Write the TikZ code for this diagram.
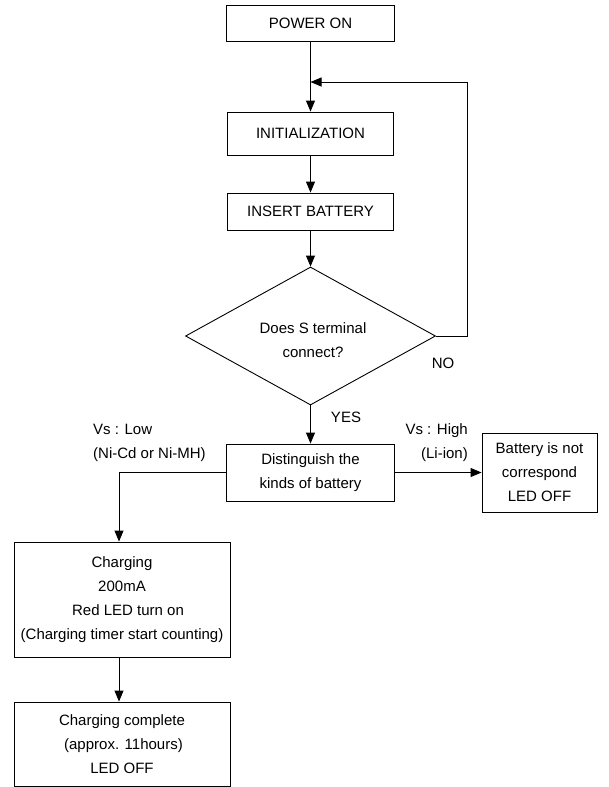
\documentclass[tikz,border=0pt]{standalone}
\usepackage{fontspec}
\setmainfont{Liberation Sans}
\usetikzlibrary{arrows.meta,shapes.geometric}
\newcommand{\fs}{\fontsize{15}{24}\selectfont}
\begin{document}
\begin{tikzpicture}[x=1pt,y=-1pt,
  box/.style={draw, line width=0.9pt, inner sep=0pt, align=center, font=\fs},
  lbl/.style={inner sep=0pt, font=\fs},
  arr/.style={-{Triangle[length=11pt,width=9pt]}, line width=0.9pt},
  ln/.style={line width=0.9pt}]
\useasboundingbox (0,0) rectangle (608,787);
\node[box, minimum width=168pt, minimum height=36pt] (power) at (310.5,23) {POWER ON};
\node[box, minimum width=166pt, minimum height=43pt] (init) at (310.5,133.5) {INITIALIZATION};
\node[box, minimum width=166pt, minimum height=37pt] (insert) at (310.5,211.5) {INSERT BATTERY};
\node[diamond, draw, ln, minimum width=250pt, minimum height=138pt, inner sep=0pt] (dec) at (310.5,336) {};
\node[lbl, align=center] (dectext) at (313,340) {Does S terminal\\connect?};
\node[box, minimum width=168pt, minimum height=57pt] (dist) at (310.5,472.5) {Distinguish the\\kinds of battery};
\node[box, minimum width=115pt, minimum height=79pt] (nc) at (539.5,472.5) {Battery is not\\correspond\\LED OFF};
\node[box, minimum width=216pt, minimum height=115pt] (chg) at (122,599.5) {Charging\\200mA\\\hspace*{12pt}Red LED turn on\\(Charging timer start counting)};
\node[box, minimum width=216pt, minimum height=84pt] (comp) at (122,744) {Charging complete\\\hspace*{3pt}(approx. 11hours)\\LED OFF};
\node[lbl] (no) at (443,363) {NO};
\node[lbl] (yes) at (346,417) {YES};
\node[lbl, align=left, anchor=west] (vlow) at (93,443) {Vs : Low\\(Ni-Cd or Ni-MH)};
\node[lbl, align=right, anchor=east] (vhigh) at (468,443) {Vs : High\\(Li-ion)};
\coordinate (fb) at (467,82);
\coordinate (lc) at (119,472.5);
\draw[arr] (power.south) -- (power.south |- init.north);
\draw[arr] (init.south) -- (init.south |- insert.north);
\draw[arr] (insert.south) -- (insert.south |- dec.north);
\draw[arr] (dec.east) -- (dec.east -| fb) -- (fb) -- (power.south |- fb);
\draw[arr] (dec.south) -- (dec.south |- dist.north);
\draw[arr] (dist.east) -- (nc.west);
\draw[arr] (dist.west) -- (lc) -- (lc |- chg.north);
\draw[arr] (lc |- chg.south) -- (lc |- comp.north);
\end{tikzpicture}
\end{document}
